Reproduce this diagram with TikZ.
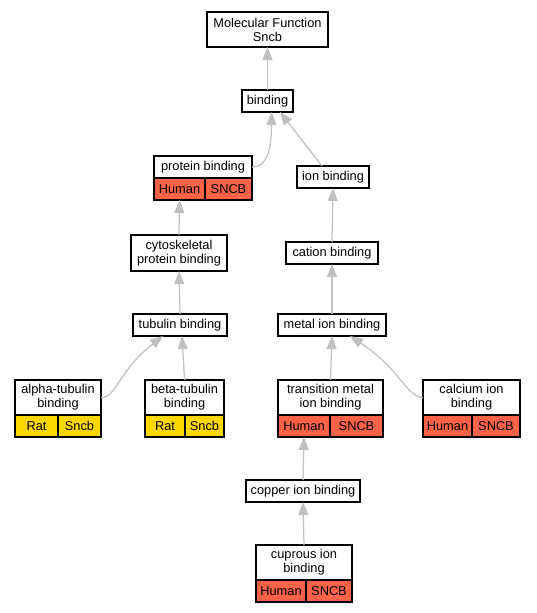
\documentclass[tikz,border=0pt]{standalone}
\usepackage{fontspec}
\setmainfont{Liberation Sans}
\usetikzlibrary{arrows.meta,positioning,calc}
\definecolor{hitred}{HTML}{FF6347}
\definecolor{hitgold}{HTML}{FFD700}
\definecolor{edgegray}{HTML}{C0C0C0}

\begin{document}
\begin{tikzpicture}[x=1pt, y=-1pt, font=\fontsize{12.8}{14}\selectfont,
  term/.style={draw, line width=1.1pt, fill=white, inner sep=0pt, outer sep=0pt, minimum height=22, align=center},
  twoline/.style={term, minimum height=35},
  cell/.style={draw, line width=1.1pt, inner sep=0pt, outer sep=0pt, minimum height=22, anchor=north west},
  human/.style={cell, fill=hitred},
  rat/.style={cell, fill=hitgold},
  edge/.style={edgegray, line width=1.2pt, -{Triangle[length=13pt, width=10pt]}}]
  \fill[white] (0,0) rectangle (536,613);
  \useasboundingbox (0,0) rectangle (536,613);

  \node[twoline, minimum width=121] (mf) at (267.5,29.5) {Molecular Function\\Sncb};
  \node[term, minimum width=51] (bind) at (267.5,101) {binding};
  \node[term, minimum width=98] (prot) at (203,167) {protein binding};
  \node[human, minimum width=51] (prot-sp) at (prot.south west) {Human};
  \node[human, minimum width=47] (prot-gene) at (prot-sp.north east) {SNCB};
  \node[term, minimum width=72] (ion) at (333,177) {ion binding};
  \node[twoline, minimum width=96, minimum height=36] (cyto) at (179,253) {cytoskeletal\\protein binding};
  \node[term, minimum width=92] (cation) at (332,253) {cation binding};
  \node[term, minimum width=94] (tub) at (180,325) {tubulin binding};
  \node[term, minimum width=108] (metal) at (332,325) {metal ion binding};
  \node[twoline, minimum width=86] (alpha) at (58,397.5) {alpha-tubulin\\binding};
  \node[rat, minimum width=43] (alpha-sp) at (alpha.south west) {Rat};
  \node[rat, minimum width=43] (alpha-gene) at (alpha-sp.north east) {Sncb};
  \node[twoline, minimum width=79] (beta) at (184.5,397.5) {beta-tubulin\\binding};
  \node[rat, minimum width=40] (beta-sp) at (beta.south west) {Rat};
  \node[rat, minimum width=39] (beta-gene) at (beta-sp.north east) {Sncb};
  \node[twoline, minimum width=105] (trans) at (330.5,397.5) {transition metal\\ion binding};
  \node[human, minimum width=52] (trans-sp) at (trans.south west) {Human};
  \node[human, minimum width=53] (trans-gene) at (trans-sp.north east) {SNCB};
  \node[twoline, minimum width=97] (calc) at (471.5,397.5) {calcium ion\\binding};
  \node[human, minimum width=49] (calc-sp) at (calc.south west) {Human};
  \node[human, minimum width=48] (calc-gene) at (calc-sp.north east) {SNCB};
  \node[term, minimum width=114] (copper) at (303,491) {copper ion binding};
  \node[twoline, minimum width=96] (cuprous) at (304,562.5) {cuprous ion\\binding};
  \node[human, minimum width=50] (cuprous-sp) at (cuprous.south west) {Human};
  \node[human, minimum width=46] (cuprous-gene) at (cuprous-sp.north east) {SNCB};

  \draw[edge] (bind.north) -- (mf.south);
  \draw[edge] (prot.east) .. controls +(14,0) and +(0,40) .. ($(bind.south)+(4,0)$);
  \draw[edge] ($(ion.north)+(-11,0)$) -- ($(bind.south east)+(-13,0)$);
  \draw[edge] (cyto.north) -- (prot-sp.south);
  \draw[edge] (cation.north) -- (ion.south);
  \draw[edge] (tub.north) -- (cyto.south);
  \draw[edge] (metal.north) -- (cation.south);
  \draw[edge] (alpha.east) .. controls +(16,0) and +(-45,35) .. ($(tub.south)+(-17,0)$);
  \draw[edge] (beta.north) -- ($(tub.south)+(2,0)$);
  \draw[edge] (trans.north) -- (metal.south);
  \draw[edge] (calc.west) .. controls +(-16,0) and +(50,33) .. ($(metal.south)+(18,0)$);
  \draw[edge] (copper.north) -- (trans-sp.south);
  \draw[edge] (cuprous.north) -- (copper.south);
\end{tikzpicture}
\end{document}
